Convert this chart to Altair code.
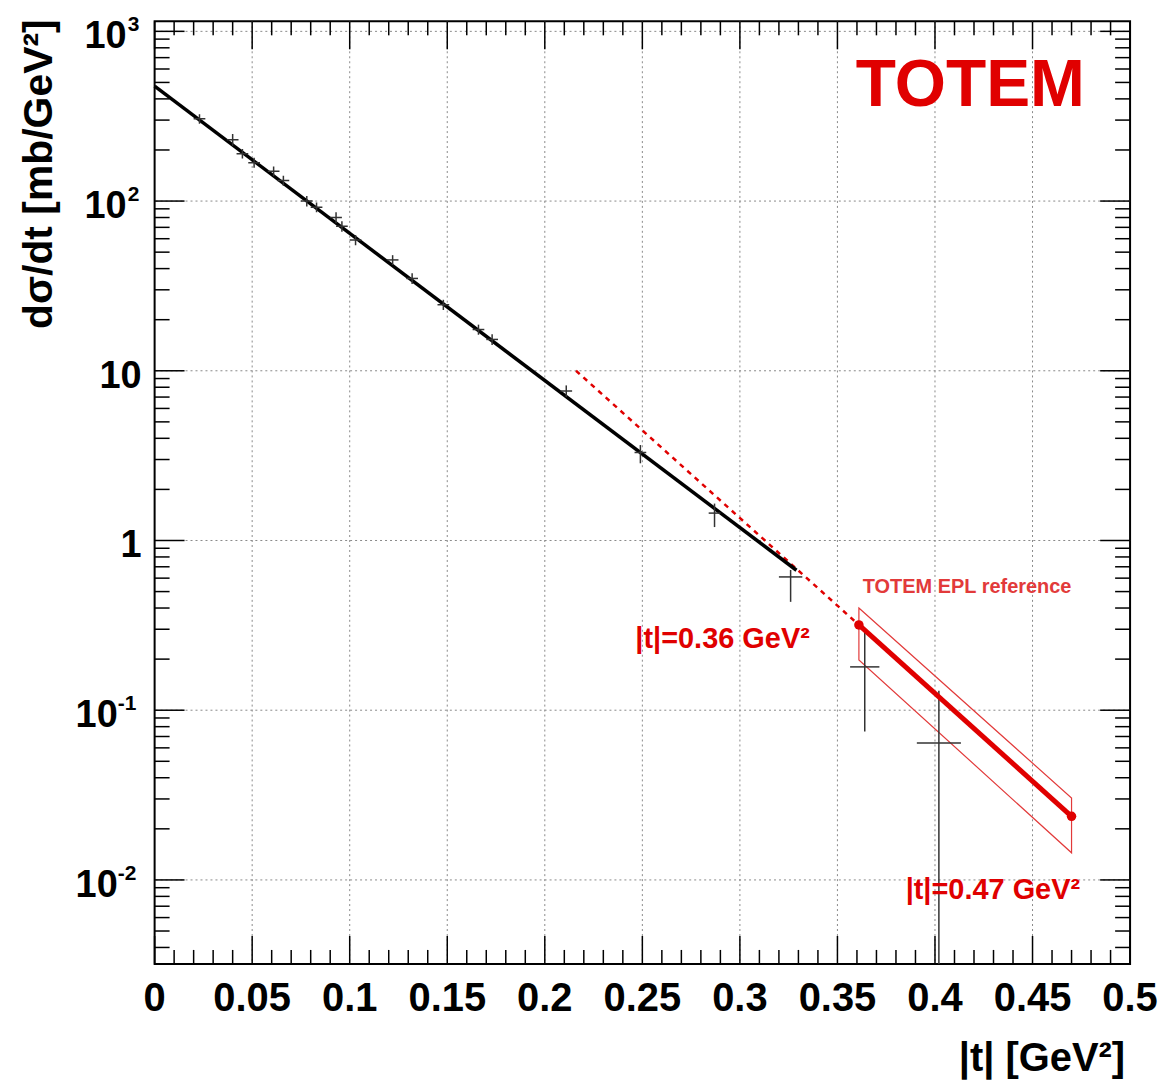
import altair as alt
import pandas as pd

W, H = 978, 945
FONT = "Liberation Sans"
RED = "#e00000"

# ---- measured data points (|t| in GeV^2, dsigma/dt in mb/GeV^2)
t_pts = [0.023, 0.040, 0.045, 0.051, 0.061, 0.066, 0.078, 0.083, 0.093, 0.096,
         0.103, 0.122, 0.132, 0.148, 0.166, 0.173, 0.211, 0.249, 0.287, 0.326,
         0.364, 0.402]
v_pts = [305, 230, 190, 168, 150, 132, 100, 92, 80, 71,
         59, 45, 35, 24.5, 17.5, 15.3, 7.6, 3.3, 1.45, 0.61,
         0.18, 0.064]
v_lo = [285, 212, 178, 157, 140, 123, 93, 86, 74, 66,
        55, 42, 32.5, 22.8, 16.3, 14.2, 7.0, 2.85, 1.2, 0.435,
        0.075, 0.001]
v_hi = [325, 248, 203, 180, 160, 141, 107, 98, 86, 76,
        63, 48, 37.5, 26.2, 18.7, 16.4, 8.2, 3.65, 1.65, 0.67,
        0.29, 0.13]
t_err = [0.003, 0.003, 0.003, 0.003, 0.003, 0.003, 0.003, 0.003, 0.003, 0.003,
         0.003, 0.003, 0.003, 0.003, 0.003, 0.003, 0.003, 0.003, 0.003, 0.006,
         0.0075, 0.0113]

# exponential fit (black), extrapolation (red dashed), EPL reference (red)
fit_t = [0.0, 0.329]
fit_v = [475, 0.668]
ext_t = [0.216, 0.361]
ext_v = [10.0, 0.318]
epl_t = [0.361, 0.470]
epl_v = [0.318, 0.0237]
epl_up = [0.40, 0.0304]
epl_dn = [0.198, 0.01445]

# axes
x_major = [0.0, 0.05, 0.1, 0.15, 0.2, 0.25, 0.3, 0.35, 0.4, 0.45, 0.5]
x_labels = ["0", "0.05", "0.1", "0.15", "0.2", "0.25", "0.3", "0.35", "0.4", "0.45", "0.5"]
x_minor = [round(i * 0.01, 2) for i in range(51) if i % 5 != 0]
y_major = [0.01, 0.1, 1, 10, 100, 1000]
y_base = ["10", "10", "1", "10", "10", "10"]
y_exp = ["-2", "-1", "", "", "2", "3"]
y_minor = [k * 10.0 ** d for d in range(-3, 3) for k in range(2, 10) if 0.0032 < k * 10.0 ** d < 1145]

xs = alt.Scale(domain=[0, 0.5], nice=False, zero=False)
ys = alt.Scale(type="log", domain=[0.0032, 1145], nice=False)

def X(f="t"):
    return alt.X(f + ":Q", scale=xs, axis=None)

def Y(f="v"):
    return alt.Y(f + ":Q", scale=ys, axis=None)

pts = pd.DataFrame({"t": t_pts, "v": v_pts, "lo": v_lo, "hi": v_hi,
                    "tl": [a - b for a, b in zip(t_pts, t_err)],
                    "th": [a + b for a, b in zip(t_pts, t_err)]})
fit = pd.DataFrame({"t": fit_t, "v": fit_v})
ext = pd.DataFrame({"t": ext_t, "v": ext_v})
epl = pd.DataFrame({"t": epl_t, "v": epl_v, "up": epl_up, "dn": epl_dn})
xmaj = pd.DataFrame({"t": x_major, "label": x_labels})
xgrid = xmaj[(xmaj.t > 0) & (xmaj.t < 0.5)]
xmin = pd.DataFrame({"t": x_minor})
ymaj = pd.DataFrame({"v": y_major, "base": y_base, "exp": y_exp,
                     "grp": ["neg" if e.startswith("-") else ("pos" if e else "none") for e in y_exp]})
ymin = pd.DataFrame({"v": y_minor})

grid_style = dict(color="#8a8a8a", strokeDash=[2, 3], strokeWidth=1)
gx = alt.Chart(xgrid).mark_rule(**grid_style).encode(x=X())
gy = alt.Chart(ymaj).mark_rule(**grid_style).encode(y=Y())

tick = dict(color="black", strokeWidth=1.5)
tk = [
    alt.Chart(xmaj).mark_rule(**tick).encode(x=X(), y=alt.value(H), y2=alt.value(H - 28)),
    alt.Chart(xmaj).mark_rule(**tick).encode(x=X(), y=alt.value(0), y2=alt.value(28)),
    alt.Chart(xmin).mark_rule(**tick).encode(x=X(), y=alt.value(H), y2=alt.value(H - 14)),
    alt.Chart(xmin).mark_rule(**tick).encode(x=X(), y=alt.value(0), y2=alt.value(14)),
    alt.Chart(ymaj).mark_rule(**tick).encode(y=Y(), x=alt.value(0), x2=alt.value(30)),
    alt.Chart(ymaj).mark_rule(**tick).encode(y=Y(), x=alt.value(W), x2=alt.value(W - 30)),
    alt.Chart(ymin).mark_rule(**tick).encode(y=Y(), x=alt.value(0), x2=alt.value(15)),
    alt.Chart(ymin).mark_rule(**tick).encode(y=Y(), x=alt.value(W), x2=alt.value(W - 15)),
]

band = alt.Chart(epl).mark_area(fillOpacity=0, stroke="#e23a3a", strokeWidth=1.2).encode(
    x=X(), y=Y("up"), y2=alt.Y2("dn:Q"))
ext_line = alt.Chart(ext).mark_line(color=RED, strokeWidth=2.5, strokeDash=[5, 5]).encode(x=X(), y=Y())
fit_line = alt.Chart(fit).mark_line(color="black", strokeWidth=3.5).encode(x=X(), y=Y())
epl_line = alt.Chart(epl).mark_line(color=RED, strokeWidth=5).encode(x=X(), y=Y())
epl_dots = alt.Chart(epl).mark_point(filled=True, color=RED, size=90, opacity=1).encode(x=X(), y=Y())

eb_v = alt.Chart(pts).mark_rule(color="#333333", strokeWidth=1.5, clip=True).encode(
    x=X(), y=Y("lo"), y2=alt.Y2("hi:Q"))
eb_h = alt.Chart(pts).mark_rule(color="#333333", strokeWidth=1.5, clip=True).encode(
    x=X("tl"), x2=alt.X2("th:Q"), y=Y())

lab = dict(font=FONT, fontWeight="bold", fontSize=38, color="black")
xlab = alt.Chart(xmaj).mark_text(align="center", baseline="alphabetic", font=FONT, fontWeight="bold",
                                 fontSize=40, color="black").encode(
    x=X(), y=alt.value(992), text="label:N")

def ylayer(grp, base_x, exp_x):
    d = alt.Chart(ymaj).transform_filter(alt.datum.grp == grp)
    out = [d.mark_text(align="right", baseline="middle", dy=6, **lab).encode(
        y=Y(), x=alt.value(base_x), text="base:N")]
    if exp_x is not None:
        out.append(d.mark_text(align="left", baseline="middle", dy=-6, font=FONT, fontWeight="bold",
                               fontSize=21, color="black").encode(
            y=Y(), x=alt.value(exp_x), text="exp:N"))
    return out

ylabs = ylayer("none", -13, None) + ylayer("pos", -28, -27) + ylayer("neg", -37, -37)

def note(txt, x, y, size, color, align="left", angle=0, baseline="alphabetic"):
    return alt.Chart(pd.DataFrame({"s": [txt]})).mark_text(
        font=FONT, fontWeight="bold", fontSize=size, color=color, align=align,
        baseline=baseline, angle=angle).encode(x=alt.value(x), y=alt.value(y), text="s:N")

texts = [
    note("TOTEM", 703, 85, 66, RED),
    note("TOTEM EPL reference", 710, 573, 20, "#e23a3a"),
    note("|t|=0.36 GeV²", 482, 628, 29, RED),
    note("|t|=0.47 GeV²", 753, 880, 29, RED),
    note("|t| [GeV²]", 973, 1052, 40, "black", align="right"),
    note("dσ/dt [mb/GeV²]", -115, -2, 41, "black", align="right", angle=270, baseline="middle"),
]

chart = alt.layer(
    gx, gy, *tk, band, ext_line, fit_line, eb_v, eb_h, epl_line, epl_dots, xlab, *ylabs, *texts
).properties(
    width=W, height=H,
    padding={"left": 147, "top": 12, "right": 28, "bottom": 118},
    autosize="none",
).configure_view(stroke="black", strokeWidth=2)

chart.save("out.html", embed_options={"renderer": "svg", "actions": False})
